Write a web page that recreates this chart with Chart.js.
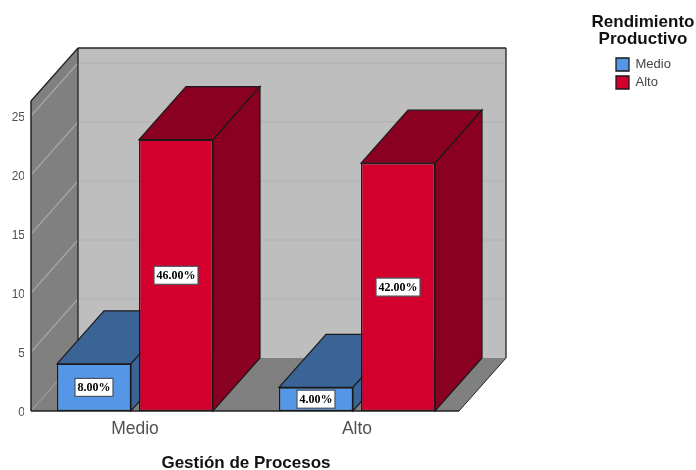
<!DOCTYPE html>
<html>
<head>
<meta charset="utf-8">
<title>Gestión de Procesos</title>
<script src="https://cdn.jsdelivr.net/npm/chart.js@4"></script>
<style>
  html, body { margin: 0; padding: 0; background: #fff; }
  canvas { display: block; }
</style>
</head>
<body>
<canvas id="chart01" width="696" height="470"></canvas>
<script>
const categories = ['Medio', 'Alto'];
const medioValues = [4, 2];
const altoValues = [23, 21];
const yTicks = [0, 5, 10, 15, 20, 25];
const yMax = 26.27;

// how far the box recedes, in pixels
const depthX = 47;
const depthY = 53;
// walls are a bit narrower than the category band
const wallInsetL = 7;
const wallInsetR = 9;

const total = medioValues.concat(altoValues).reduce(function (a, b) { return a + b; }, 0);

function poly(ctx, pts, fill, stroke, lw) {
  ctx.beginPath();
  ctx.moveTo(pts[0][0], pts[0][1]);
  for (var i = 1; i < pts.length; i++) {
    ctx.lineTo(pts[i][0], pts[i][1]);
  }
  ctx.closePath();
  if (fill) {
    ctx.fillStyle = fill;
    ctx.fill();
  }
  if (stroke) {
    ctx.strokeStyle = stroke;
    ctx.lineWidth = lw || 1;
    ctx.stroke();
  }
}

function line(ctx, x1, y1, x2, y2, color, lw) {
  ctx.beginPath();
  ctx.moveTo(x1, y1);
  ctx.lineTo(x2, y2);
  ctx.strokeStyle = color;
  ctx.lineWidth = lw;
  ctx.stroke();
}

function moveBox(box, left, top, width, height) {
  box.left = left;
  box.top = top;
  box.width = width;
  box.height = height;
  box.right = left + width;
  box.bottom = top + height;
}

const box3d = {
  id: 'box3d',
  afterLayout: function (chart) {
    // legend and its heading sit out in the right margin
    moveBox(chart.titleBlock, 591, 14, 104, 34);
    moveBox(chart.legend, 611, 53, 80, 60);
  },
  beforeDatasetsDraw: function (chart) {
    const ctx = chart.ctx;
    const area = chart.chartArea;
    const y = chart.scales.y;
    const l = area.left + wallInsetL;
    const r = area.right - wallInsetR;
    const t = area.top;
    const b = area.bottom;
    ctx.save();

    // back wall, side wall, floor
    poly(ctx, [[l + depthX, t - depthY], [r + depthX, t - depthY], [r + depthX, b - depthY], [l + depthX, b - depthY]], '#bebebe');
    poly(ctx, [[l, t], [l + depthX, t - depthY], [l + depthX, b - depthY], [l, b]], '#808080');
    poly(ctx, [[l, b], [r, b], [r + depthX, b - depthY], [l + depthX, b - depthY]], '#808080');

    // grid lines run along the side wall and across the back
    yTicks.forEach(function (v) {
      if (v === 0) {
        line(ctx, l, b, l + depthX, b - depthY, '#a0a0a0', 1);
        return;
      }
      const py = y.getPixelForValue(v);
      line(ctx, l, py, l + depthX, py - depthY, '#a6a6a6', 1.2);
      line(ctx, l + depthX, py - depthY, r + depthX, py - depthY, '#afafaf', 1.2);
    });

    // box edges
    const edge = '#222222';
    line(ctx, l, t, l + depthX, t - depthY, edge, 1.3);
    line(ctx, l + depthX, t - depthY, r + depthX, t - depthY, edge, 1.5);
    line(ctx, r + depthX, t - depthY, r + depthX, b - depthY, edge, 1.3);
    line(ctx, r + depthX, b - depthY, r, b, edge, 1);
    line(ctx, l + depthX, t - depthY, l + depthX, b - depthY, edge, 1.3);
    line(ctx, l, t, l, b, edge, 1.5);
    line(ctx, l, b, r, b, edge, 1.5);

    // tops and sides of the bars, the front faces come from Chart.js
    chart.data.datasets.forEach(function (ds, di) {
      const meta = chart.getDatasetMeta(di);
      meta.data.forEach(function (bar) {
        const p = bar.getProps(['x', 'y', 'base', 'width']);
        const x0 = p.x - p.width / 2;
        const x1 = p.x + p.width / 2;
        poly(ctx, [[x0, p.y], [x0 + depthX, p.y - depthY], [x1 + depthX, p.y - depthY], [x1, p.y]], ds.shadeColor, ds.borderColor, 1.2);
        poly(ctx, [[x1, p.y], [x1 + depthX, p.y - depthY], [x1 + depthX, p.base - depthY], [x1, p.base]], ds.shadeColor, ds.borderColor, 1.2);
      });
    });
    ctx.restore();
  },
  afterDatasetsDraw: function (chart) {
    const ctx = chart.ctx;
    ctx.save();
    ctx.font = 'bold 12px "Liberation Serif", serif';
    ctx.textAlign = 'center';
    ctx.textBaseline = 'middle';
    chart.data.datasets.forEach(function (ds, di) {
      chart.getDatasetMeta(di).data.forEach(function (bar, i) {
        const p = bar.getProps(['x', 'y', 'base']);
        const txt = (ds.data[i] / total * 100).toFixed(2) + '%';
        const w = ctx.measureText(txt).width + 5;
        const my = (p.y + p.base) / 2;
        ctx.fillStyle = '#ffffff';
        ctx.fillRect(p.x - w / 2, my - 9, w, 18);
        ctx.strokeStyle = '#4a5560';
        ctx.lineWidth = 1.2;
        ctx.strokeRect(p.x - w / 2, my - 9, w, 18);
        ctx.fillStyle = '#000000';
        ctx.fillText(txt, p.x, my + 0.5);
      });
    });
    ctx.restore();
  }
};

var ctx = document.getElementById('chart01').getContext('2d');
var myChart = new Chart(ctx, {
  type: 'bar',
  plugins: [box3d],
  data: {
    labels: categories,
    datasets: [{
      label: 'Medio',
      data: medioValues,
      backgroundColor: '#5596e6',
      shadeColor: '#3a6496',
      borderColor: '#1a1a1a',
      borderWidth: 1.3,
      borderSkipped: false
    }, {
      label: 'Alto',
      data: altoValues,
      backgroundColor: '#d3002d',
      shadeColor: '#8a0020',
      borderColor: '#1a1a1a',
      borderWidth: 1.3,
      borderSkipped: false
    }]
  },
  options: {
    responsive: false,
    animation: false,
    categoryPercentage: 0.739,
    barPercentage: 0.902,
    layout: { padding: { top: 67, right: 228, bottom: 0, left: 0 } },
    scales: {
      x: {
        grid: { display: false, drawTicks: false },
        border: { display: false },
        ticks: { color: '#505050', font: { family: '"Liberation Sans", Arial, sans-serif', size: 17.5 }, padding: 8, maxRotation: 0 },
        title: {
          display: true,
          text: 'Gestión de Procesos',
          color: '#111111',
          font: { family: '"Liberation Sans", Arial, sans-serif', size: 17, weight: 'bold', lineHeight: 1 },
          padding: { top: 0, bottom: -2 }
        },
        afterFit: function (axis) { axis.height = 59; }
      },
      y: {
        min: 0,
        max: yMax,
        grid: { display: false, drawTicks: false },
        border: { display: false },
        ticks: { color: '#505050', font: { family: '"Liberation Sans", Arial, sans-serif', size: 12 }, padding: -1, labelOffset: 2 },
        afterBuildTicks: function (axis) {
          axis.ticks = yTicks.map(function (v) { return { value: v }; });
        },
        afterFit: function (axis) { axis.width = 24; }
      }
    },
    plugins: {
      tooltip: { enabled: false },
      title: {
        display: true,
        text: ['Rendimiento', 'Productivo'],
        color: '#111111',
        font: { family: '"Liberation Sans", Arial, sans-serif', size: 17, weight: 'bold', lineHeight: 1 },
        padding: 0
      },
      legend: {
        position: 'chartArea',
        align: 'start',
        labels: {
          boxWidth: 13,
          boxHeight: 13,
          padding: 5,
          color: '#444444',
          font: { family: '"Liberation Sans", Arial, sans-serif', size: 13 }
        }
      }
    }
  }
});
</script>
</body>
</html>
